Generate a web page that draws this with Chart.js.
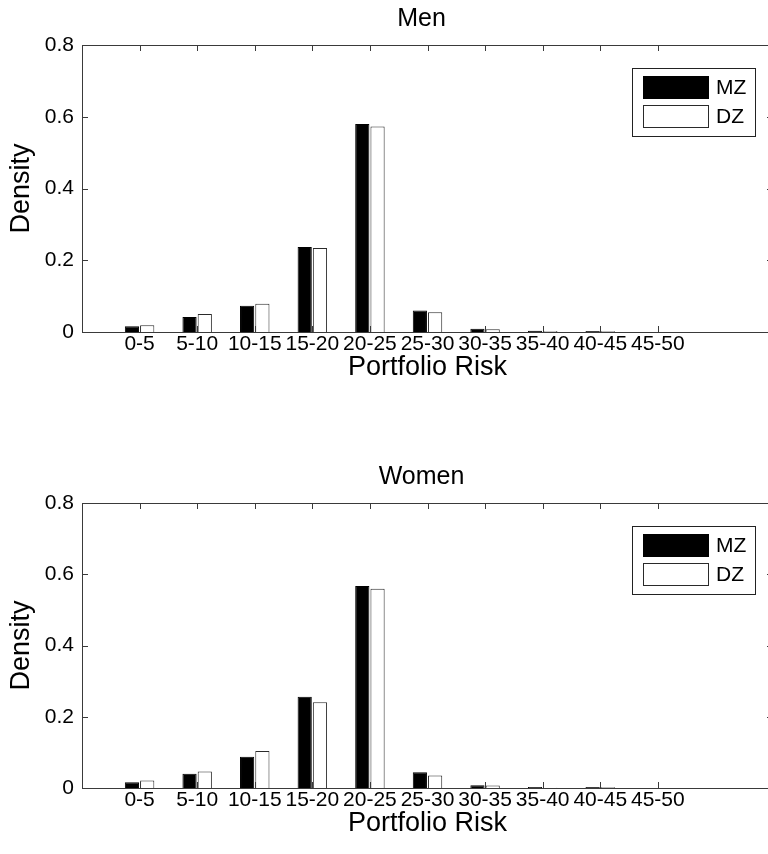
<!DOCTYPE html>
<html>
<head>
<meta charset="utf-8">
<title>Portfolio Risk - MZ vs DZ</title>
<script src="https://cdn.jsdelivr.net/npm/chart.js@4.4.1/dist/chart.umd.min.js"></script>
<style>
  html, body { margin: 0; padding: 0; background: #fff; }
  body { width: 768px; height: 854px; overflow: hidden; position: relative; }
  canvas { position: absolute; left: 0; }
  #menChart { top: 0; }
  #womenChart { top: 458px; }
</style>
</head>
<body>
<canvas id="menChart" width="790" height="400"></canvas>
<canvas id="womenChart" width="790" height="396"></canvas>
<script>
// histogram bins (x axis)
const categories = ['0-5', '5-10', '10-15', '15-20', '20-25', '25-30', '30-35', '35-40', '40-45', '45-50'];
const yTicks = [0, 0.2, 0.4, 0.6, 0.8];

// Men
const menMZ = [0.016, 0.042, 0.073, 0.237, 0.580, 0.060, 0.009, 0.0035, 0.003, 0];
const menDZ = [0.019, 0.050, 0.079, 0.234, 0.573, 0.055, 0.008, 0.003, 0.002, 0];

// Women
const womenMZ = [0.016, 0.040, 0.088, 0.256, 0.567, 0.044, 0.0075, 0.003, 0.003, 0];
const womenDZ = [0.021, 0.046, 0.104, 0.241, 0.559, 0.035, 0.007, 0.001, 0.002, 0];

const FONT = '"Liberation Sans", Arial, Helvetica, sans-serif';
const AXIS_COLOR = '#3a3a3a';

// MATLAB-like box with inward ticks on all four sides
const matlabBox = {
  id: 'matlabBox',
  afterDatasetsDraw(chart) {
    const { ctx, chartArea: a, scales: { x, y } } = chart;
    const len = 6;
    ctx.save();
    ctx.strokeStyle = AXIS_COLOR;
    ctx.lineWidth = 1;
    ctx.beginPath();
    x.ticks.forEach(t => {
      const px = Math.round(x.getPixelForValue(t.value)) + 0.5;
      ctx.moveTo(px, a.top); ctx.lineTo(px, a.top + len);
      ctx.moveTo(px, a.bottom); ctx.lineTo(px, a.bottom - len);
    });
    y.ticks.forEach(t => {
      const py = Math.round(y.getPixelForValue(t.value)) + 0.5;
      ctx.moveTo(a.left, py); ctx.lineTo(a.left + len, py);
      ctx.moveTo(a.right, py); ctx.lineTo(a.right - len, py);
    });
    ctx.stroke();
    ctx.strokeRect(Math.round(a.left) + 0.5, Math.round(a.top) + 0.5,
      Math.round(a.right - a.left), Math.round(a.bottom - a.top));
    ctx.restore();
  }
};

// axes title above the plot box (MATLAB style)
const axesTitle = {
  id: 'axesTitle',
  afterDraw(chart, args, opts) {
    const { ctx, chartArea: a } = chart;
    ctx.save();
    ctx.fillStyle = '#000';
    ctx.font = '25px ' + FONT;
    ctx.textAlign = 'center';
    ctx.textBaseline = 'middle';
    ctx.fillText(opts.text, (a.left + a.right) / 2 - 6, a.top - 26);
    ctx.restore();
  }
};

// legend box in the upper right, like MATLAB's legend
const boxLegend = {
  id: 'boxLegend',
  afterDraw(chart) {
    const { ctx, chartArea: a } = chart;
    const left = a.left + 550, top = a.top + 23;
    const w = 123, h = 68;
    ctx.save();
    ctx.fillStyle = '#fff';
    ctx.fillRect(left, top, w, h);
    ctx.strokeStyle = '#222';
    ctx.lineWidth = 1;
    ctx.strokeRect(left + 0.5, top + 0.5, w, h);
    ctx.font = '21px ' + FONT;
    ctx.textBaseline = 'middle';
    chart.data.datasets.forEach((ds, i) => {
      const sy = top + 8 + i * 29;
      ctx.fillStyle = ds.backgroundColor;
      ctx.fillRect(left + 11, sy, 66, 23);
      ctx.strokeStyle = ds.borderColor;
      ctx.strokeRect(left + 11.5, sy + 0.5, 65, 22);
      ctx.fillStyle = '#000';
      ctx.fillText(ds.label, left + 84, sy + 12.5);
    });
    ctx.restore();
  }
};

function makeChart(canvasId, titleText, mz, dz, xAreaHeight, xTitlePad) {
  const positions = categories.map((c, i) => i + 1);
  const toPoints = vals => vals.map((v, i) => ({ x: positions[i], y: v }));

  return new Chart(document.getElementById(canvasId), {
    type: 'bar',
    data: {
      datasets: [
        {
          label: 'MZ',
          data: toPoints(mz),
          backgroundColor: '#000000',
          borderColor: '#000000',
          borderWidth: 1,
          categoryPercentage: 0.53,
          barPercentage: 0.93
        },
        {
          label: 'DZ',
          data: toPoints(dz),
          backgroundColor: '#ffffff',
          borderColor: '#2a2a2a',
          borderWidth: 1,
          categoryPercentage: 0.53,
          barPercentage: 0.93
        }
      ]
    },
    options: {
      responsive: false,
      animation: false,
      devicePixelRatio: 1,
      layout: { padding: { left: 0, right: 17, top: 45, bottom: 0 } },
      plugins: {
        legend: { display: false },
        tooltip: { enabled: false },
        title: { display: false },
        axesTitle: { text: titleText }
      },
      scales: {
        x: {
          type: 'linear',
          offset: false,
          min: 0,
          max: 12,
          grid: { display: false, drawTicks: false },
          border: { display: false },
          afterBuildTicks: scale => {
            scale.ticks = positions.map(v => ({ value: v }));
          },
          afterFit: scale => { scale.height = xAreaHeight; },
          ticks: {
            autoSkip: false,
            maxRotation: 0,
            padding: 0,
            color: '#000',
            font: { family: FONT, size: 21 },
            callback: value => categories[value - 1]
          },
          title: {
            display: true,
            text: 'Portfolio Risk',
            color: '#000',
            font: { family: FONT, size: 27 },
            padding: { top: 0, bottom: xTitlePad }
          }
        },
        y: {
          min: 0,
          max: 0.8,
          grid: { display: false, drawTicks: false },
          border: { display: false },
          afterBuildTicks: scale => {
            scale.ticks = yTicks.map(v => ({ value: v }));
          },
          afterFit: scale => { scale.width = 82; },
          ticks: {
            padding: 8,
            color: '#000',
            font: { family: FONT, size: 21 },
            callback: value => String(value)
          },
          title: {
            display: true,
            text: 'Density',
            color: '#000',
            font: { family: FONT, size: 27 },
            padding: { top: 5, bottom: 0 }
          }
        }
      }
    },
    plugins: [matlabBox, axesTitle, boxLegend]
  });
}

makeChart('menChart', 'Men', menMZ, menDZ, 68, 16);
makeChart('womenChart', 'Women', womenMZ, womenDZ, 66, 14);
</script>
</body>
</html>
